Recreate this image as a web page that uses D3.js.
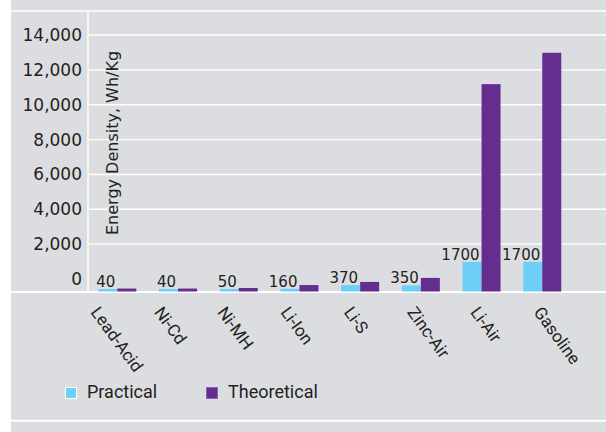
<!DOCTYPE html>
<html>
<head>
<meta charset="utf-8">
<script src="https://cdn.jsdelivr.net/npm/d3@7/dist/d3.min.js"></script>
<style>
  html, body { margin: 0; padding: 0; background: #ffffff; }
  svg { display: block; }
</style>
</head>
<body>
<script>
// ---- data ----
const categories = ["Lead-Acid", "Ni-Cd", "Ni-MH", "Li-Ion", "Li-S", "Zinc-Air", "Li-Air", "Gasoline"];
const practical = [40, 40, 50, 160, 370, 350, 1700, 1700];
const theoretical = [170, 170, 200, 370, 550, 780, 11900, 13700];
const seriesNames = ["Practical", "Theoretical"];
const yTicks = [0, 2000, 4000, 6000, 8000, 10000, 12000, 14000];
const yTitle = "Energy Density, Wh/Kg";

// ---- layout ----
const W = 606, H = 432;
const colors = { Practical: "#6dcff6", Theoretical: "#652d90" };
const bg = "#dcdde0", ink = "#231f20";
const baseY = 291.5, topY = 11, axisX = 88, leftEdge = 11;
const tickShift = -12.5;

const svg = d3.select("body").append("svg").attr("width", W).attr("height", H);
svg.append("rect").attr("x", 0).attr("y", 0).attr("width", W).attr("height", H).attr("fill", "#ffffff");
svg.append("rect").attr("x", leftEdge).attr("y", 0).attr("width", W - leftEdge).attr("height", H).attr("fill", bg);

const x = d3.scaleBand().domain(categories).range([87, 572.6]).paddingInner(0.374).paddingOuter(0.187);
const xs = d3.scaleBand().domain(seriesNames).range([0, x.bandwidth()]);
const y = d3.scaleLinear().domain([0, (baseY - topY) / 0.017425]).range([baseY, topY]);
const xLabel = d3.scalePoint().domain(categories).range([100, 543]);

// gridlines (shifted like the reference axis)
const grid = svg.append("g").attr("transform", `translate(0,${tickShift})`);
grid.selectAll("line").data(yTicks.filter(d => d > 0)).join("line")
  .attr("x1", axisX).attr("x2", W)
  .attr("y1", d => y(d)).attr("y2", d => y(d))
  .attr("stroke", "#ffffff").attr("stroke-width", 1.4);

// frame lines
svg.append("line").attr("x1", leftEdge).attr("x2", W).attr("y1", topY).attr("y2", topY)
  .attr("stroke", "#ffffff").attr("stroke-width", 1.5);
svg.append("line").attr("x1", axisX).attr("x2", axisX).attr("y1", topY).attr("y2", baseY + 1.5)
  .attr("stroke", "#ffffff").attr("stroke-width", 1.4);
svg.append("line").attr("x1", leftEdge).attr("x2", W).attr("y1", baseY + 0.5).attr("y2", baseY + 0.5)
  .attr("stroke", "#ffffff").attr("stroke-width", 2);
svg.append("line").attr("x1", leftEdge).attr("x2", W).attr("y1", 420.7).attr("y2", 420.7)
  .attr("stroke", "#ffffff").attr("stroke-width", 2);

// y axis labels
const yAxis = d3.axisLeft(y).tickValues(yTicks).tickFormat(d3.format(",")).tickSize(0).tickPadding(6);
const ya = svg.append("g").attr("transform", `translate(${axisX},${tickShift})`).call(yAxis);
ya.select(".domain").remove();
ya.selectAll("text").attr("font-family", "DejaVu Sans").attr("font-size", 17).attr("fill", ink);

// bars
const rows = categories.map((c, i) => ({ cat: c, Practical: practical[i], Theoretical: theoretical[i] }));
const groups = svg.append("g").selectAll("g").data(rows).join("g")
  .attr("transform", d => `translate(${x(d.cat)},0)`);
groups.selectAll("rect").data(d => seriesNames.map(s => ({ s, v: d[s] }))).join("rect")
  .attr("x", d => xs(d.s))
  .attr("width", xs.bandwidth())
  .attr("y", d => baseY - Math.max(baseY - y(d.v), 2.5))
  .attr("height", d => Math.max(baseY - y(d.v), 2.5))
  .attr("fill", d => colors[d.s]);

// value labels on practical bars
groups.append("text")
  .attr("x", xs("Practical") + xs.bandwidth() - 2)
  .attr("y", d => baseY - Math.max(baseY - y(d.Practical), 2.5) - 2)
  .attr("text-anchor", "end")
  .attr("font-family", "DejaVu Sans").attr("font-size", 15).attr("fill", ink)
  .text(d => d.Practical);

// y title
svg.append("text")
  .attr("transform", "translate(118,235) rotate(-90)")
  .attr("font-family", "DejaVu Sans").attr("font-size", 16).attr("fill", ink)
  .text(yTitle);

// category labels
svg.append("g").selectAll("text").data(categories).join("text")
  .attr("transform", d => `translate(${xLabel(d)},305) rotate(54)`)
  .attr("dy", "0.72em")
  .attr("font-family", "Roboto").attr("font-size", 17).attr("fill", ink)
  .text(d => d);

// legend
const legendX = [65, 206];
const lg = svg.append("g").selectAll("g").data(seriesNames).join("g")
  .attr("transform", (d, i) => `translate(${legendX[i]},387)`);
lg.append("rect").attr("x", 0.5).attr("y", 0.5).attr("width", 11).attr("height", 11)
  .attr("fill", d => colors[d]).attr("stroke", (d, i) => i === 0 ? "#ffffff" : "#8a63a8").attr("stroke-width", 1);
lg.append("text").attr("x", 22).attr("y", 11)
  .attr("font-family", "Roboto").attr("font-size", 18).attr("fill", ink)
  .text(d => d);
</script>
</body>
</html>
